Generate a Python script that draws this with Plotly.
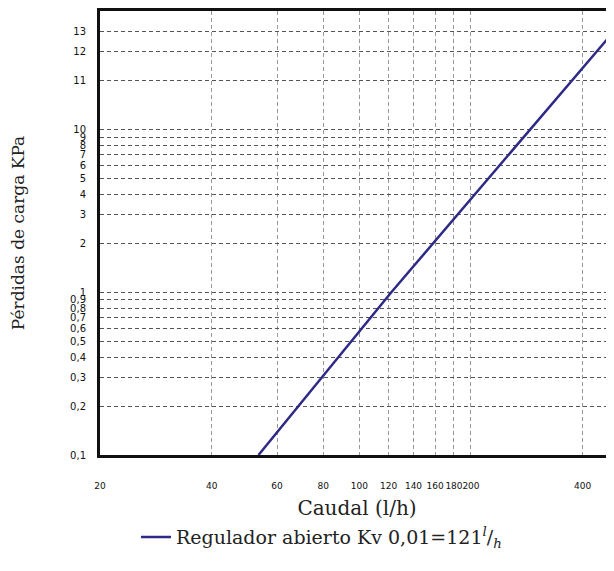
import plotly.graph_objects as go

# Flow (l/h) vs pressure loss
caudal = [53.5, 122, 485]
perdidas = [0.1, 1, 40]

x_ticks = [20, 40, 60, 80, 100, 120, 140, 160, 180, 200, 400]
x_labels = [str(v) for v in x_ticks]

y_ticks = [0.1, 0.2, 0.3, 0.4, 0.5, 0.6, 0.7, 0.8, 0.9, 1,
           2, 3, 4, 5, 6, 7, 8, 9, 10, 20, 30, 40]
y_labels = ["0,1", "0,2", "0,3", "0,4", "0,5", "0,6", "0,7", "0,8", "0,9", "1",
            "2", "3", "4", "5", "6", "7", "8", "9", "10", "11", "12", "13"]

serie = "Regulador abierto Kv 0,01=121<sup><i>l</i></sup>/<sub><i>h</i></sub>"

fig = go.Figure()
fig.add_trace(go.Scatter(x=caudal, y=perdidas, mode="lines", name=serie,
                         line=dict(color="#2e2a85", width=2.5)))

# page body has an 8px margin, so the figure is sized to fit the window
fig.update_layout(
    width=606, height=552,
    margin=dict(l=92, r=0, t=3, b=105),
    paper_bgcolor="white", plot_bgcolor="white",
    showlegend=True,
    legend=dict(orientation="h", x=0.07, xanchor="left", y=-0.185, yanchor="middle",
                font=dict(family="DejaVu Serif", size=19, color="#222")),
    xaxis=dict(type="log", range=[1.30103, 2.6866],
               tickvals=x_ticks, ticktext=x_labels, tickangle=0,
               tickfont=dict(family="DejaVu Sans", size=9, color="#111"),
               ticks="outside", ticklen=20, tickcolor="rgba(0,0,0,0)",
               showgrid=True, gridcolor="#999", griddash="4px,3px", gridwidth=1,
               showline=True, linecolor="#111", linewidth=3, mirror=True,
               zeroline=False,
               title=dict(text="Caudal (l/h)", standoff=12,
                          font=dict(family="DejaVu Serif", size=20, color="#222"))),
    yaxis=dict(type="log", range=[-1, 1.729],
               tickvals=y_ticks, ticktext=y_labels,
               tickfont=dict(family="DejaVu Sans", size=10, color="#111"),
               ticks="outside", ticklen=9, tickcolor="rgba(0,0,0,0)",
               showgrid=True, gridcolor="#555", griddash="4px,3px", gridwidth=1,
               showline=True, linecolor="#111", linewidth=3, mirror=False,
               zeroline=False,
               title=dict(text="Pérdidas de carga KPa", standoff=50,
                          font=dict(family="DejaVu Serif", size=17, color="#222"))),
)

fig.write_html("out.html")
